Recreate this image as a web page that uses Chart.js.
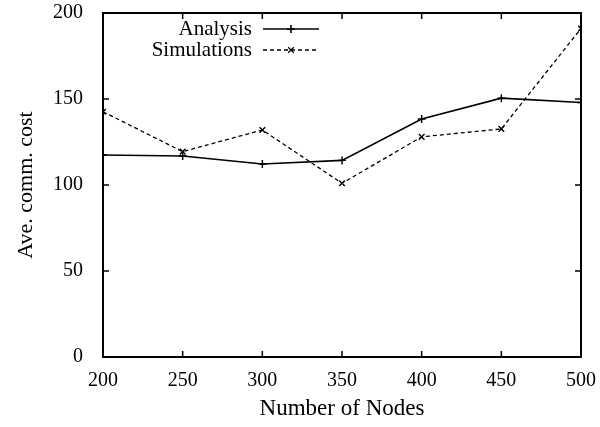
<!DOCTYPE html>
<html>
<head>
<meta charset="utf-8">
<script src="https://cdn.jsdelivr.net/npm/chart.js@4/dist/chart.umd.min.js"></script>
<style>
  html, body { margin: 0; padding: 0; background: #fff; }
  #wrap { width: 600px; height: 427px; }
</style>
</head>
<body>
<div id="wrap"><canvas id="cost"></canvas></div>
<script>
const nodes = [200, 250, 300, 350, 400, 450, 500];
const analysis = [117.4, 116.9, 112.2, 114.3, 138.4, 150.5, 148];
const simulations = [142.6, 119.4, 132, 101, 128, 132.6, 191];
const yTicks = [0, 50, 100, 150, 200];

const serif = "'Liberation Serif', 'DejaVu Serif', serif";

// gnuplot-like inward ticks on all four sides
const inTicks = {
  id: 'inTicks',
  afterDraw(chart) {
    const { ctx, chartArea: a, scales } = chart;
    ctx.save();
    ctx.strokeStyle = '#000';
    ctx.lineWidth = 1.5;
    ctx.beginPath();
    nodes.forEach(v => {
      const x = scales.x.getPixelForValue(v);
      ctx.moveTo(x, a.bottom); ctx.lineTo(x, a.bottom - 6);
      ctx.moveTo(x, a.top); ctx.lineTo(x, a.top + 6);
    });
    yTicks.forEach(v => {
      const y = scales.y.getPixelForValue(v);
      ctx.moveTo(a.left, y); ctx.lineTo(a.left + 6, y);
      ctx.moveTo(a.right, y); ctx.lineTo(a.right - 6, y);
    });
    ctx.stroke();
    ctx.lineWidth = 2;
    ctx.strokeRect(a.left, a.top, a.right - a.left, a.bottom - a.top);
    ctx.restore();
  }
};

// key in the top-left, text right-aligned before the line sample
const gnuKey = {
  id: 'gnuKey',
  afterDraw(chart) {
    const ctx = chart.ctx;
    ctx.save();
    ctx.font = '21px ' + serif;
    ctx.textAlign = 'right';
    ctx.textBaseline = 'middle';
    ctx.fillStyle = '#000';
    chart.data.datasets.forEach((ds, i) => {
      const y = 29 + i * 21;
      ctx.fillText(ds.label, 252, y);
      ctx.strokeStyle = '#000';
      ctx.lineWidth = ds.borderWidth;
      ctx.setLineDash(ds.borderDash || []);
      ctx.beginPath();
      ctx.moveTo(263, y); ctx.lineTo(319, y);
      ctx.stroke();
      ctx.setLineDash([]);
      Chart.helpers.drawPoint(ctx, {
        pointStyle: ds.pointStyle, radius: ds.pointRadius, borderWidth: 1.4
      }, 291, y);
    });
    ctx.restore();
  }
};

new Chart(document.getElementById('cost'), {
  type: 'line',
  data: {
    datasets: [{
      label: 'Analysis',
      data: nodes.map((n, i) => ({ x: n, y: analysis[i] })),
      borderColor: '#000',
      backgroundColor: '#000',
      borderWidth: 1.6,
      pointStyle: 'cross',
      pointRadius: 4,
      pointBorderWidth: 1.4,
      tension: 0
    }, {
      label: 'Simulations',
      data: nodes.map((n, i) => ({ x: n, y: simulations[i] })),
      borderColor: '#000',
      backgroundColor: '#000',
      borderWidth: 1.3,
      borderDash: [4, 3],
      pointStyle: 'crossRot',
      pointRadius: 4,
      pointBorderWidth: 1.4,
      tension: 0
    }]
  },
  options: {
    responsive: true,
    maintainAspectRatio: false,
    animation: false,
    layout: { padding: { top: 13, right: 19, left: 0, bottom: 0 } },
    plugins: {
      legend: { display: false },
      tooltip: { enabled: false }
    },
    scales: {
      x: {
        type: 'linear',
        min: 200, max: 500,
        afterFit: s => { s.height = 70; s.paddingLeft = 0; s.paddingRight = 0; },
        afterBuildTicks: s => { s.ticks = nodes.map(v => ({ value: v })); },
        grid: { display: false },
        border: { display: false },
        ticks: { color: '#000', font: { family: serif, size: 20 }, padding: 4, maxRotation: 0 },
        title: { display: true, text: 'Number of Nodes', color: '#000',
                 font: { family: serif, size: 23 }, padding: { bottom: 4 } }
      },
      y: {
        min: 0, max: 200,
        afterFit: s => { s.width = 103; s.paddingTop = 0; s.paddingBottom = 0; },
        afterBuildTicks: s => { s.ticks = yTicks.map(v => ({ value: v })); },
        grid: { display: false },
        border: { display: false },
        ticks: { color: '#000', font: { family: serif, size: 20 }, padding: 12 },
        title: { display: true, text: 'Ave. comm. cost', color: '#000',
                 font: { family: serif, size: 22 }, padding: { top: 13 } }
      }
    }
  },
  plugins: [inTicks, gnuKey]
});
</script>
</body>
</html>
